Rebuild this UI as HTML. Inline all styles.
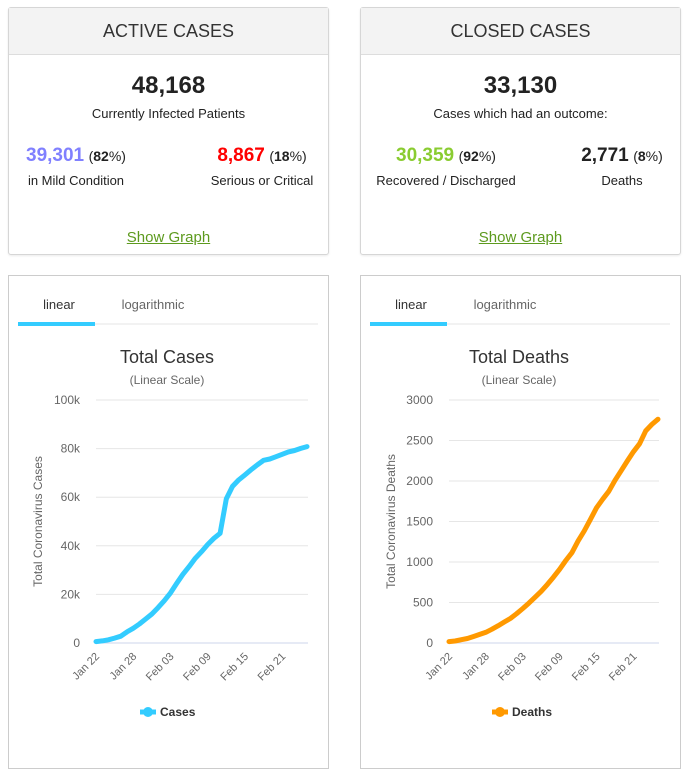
<!DOCTYPE html>
<html><head><meta charset="utf-8">
<style>
body{margin:0;width:690px;height:776px;background:#fff;font-family:"Liberation Sans",sans-serif;position:relative;overflow:hidden;color:#222}
.card{position:absolute;border:1px solid #d6d6d6;border-radius:3px;box-sizing:border-box;background:#fff;box-shadow:0 1px 2px rgba(0,0,0,.08)}
.hdr{height:46px;background:#f3f3f3;border-bottom:1px solid #ddd;text-align:center;line-height:46px;font-size:18px;color:#333}
.abs{position:absolute;text-align:center;white-space:nowrap}
.big{font-size:24px;font-weight:bold;color:#222}
.sub{font-size:13px;color:#222}
.num{font-size:19px;font-weight:bold}
.pct{font-size:14px;color:#222}
.link{font-size:15px;color:#5d9a1e;text-decoration:underline}
.ccard{position:absolute;border:1px solid #ccc;box-sizing:border-box;background:#fff}
svg text{font-family:"Liberation Sans",sans-serif}
</style></head><body>

<div class="card" style="left:8px;top:7px;width:321px;height:248px">
 <div class="hdr">ACTIVE CASES</div>
 <div class="abs big" style="left:0;width:319px;top:64px">48,168</div>
 <div class="abs sub" style="left:0;width:319px;top:98px">Currently Infected Patients</div>
 <div class="abs" style="left:0;width:134px;top:137px"><span class="num" style="color:#8080ff">39,301</span> <span class="pct">(<b>82</b>%)</span></div>
 <div class="abs sub" style="left:0;width:134px;top:165px">in Mild Condition</div>
 <div class="abs" style="left:178px;width:150px;top:137px"><span class="num" style="color:#f00">8,867</span> <span class="pct">(<b>18</b>%)</span></div>
 <div class="abs sub" style="left:178px;width:150px;top:165px">Serious or Critical</div>
 <div class="abs link" style="left:0;width:319px;top:221px">Show Graph</div>
</div>

<div class="card" style="left:360px;top:7px;width:321px;height:248px">
 <div class="hdr">CLOSED CASES</div>
 <div class="abs big" style="left:0;width:319px;top:64px">33,130</div>
 <div class="abs sub" style="left:0;width:319px;top:98px">Cases which had an outcome:</div>
 <div class="abs" style="left:5px;width:160px;top:137px"><span class="num" style="color:#8acc31">30,359</span> <span class="pct">(<b>92</b>%)</span></div>
 <div class="abs sub" style="left:5px;width:160px;top:165px">Recovered / Discharged</div>
 <div class="abs" style="left:186px;width:150px;top:137px"><span class="num" style="color:#222">2,771</span> <span class="pct">(<b>8</b>%)</span></div>
 <div class="abs sub" style="left:186px;width:150px;top:165px">Deaths</div>
 <div class="abs link" style="left:0;width:319px;top:221px">Show Graph</div>
</div>

<div class="ccard" style="left:8px;top:275px;width:321px;height:494px"></div>
<div class="ccard" style="left:360px;top:275px;width:321px;height:494px"></div>

<svg id="s" width="690" height="776" style="position:absolute;left:0;top:0"></svg>

<script>
const dates=["Jan 22","Jan 23","Jan 24","Jan 25","Jan 26","Jan 27","Jan 28","Jan 29","Jan 30","Jan 31","Feb 01","Feb 02","Feb 03","Feb 04","Feb 05","Feb 06","Feb 07","Feb 08","Feb 09","Feb 10","Feb 11","Feb 12","Feb 13","Feb 14","Feb 15","Feb 16","Feb 17","Feb 18","Feb 19","Feb 20","Feb 21","Feb 22","Feb 23","Feb 24","Feb 25"];
const tickLabels=["Jan 22","Jan 28","Feb 03","Feb 09","Feb 15","Feb 21"];
const cases=[580,845,1317,2015,2800,4581,6058,7813,9823,11950,14553,17391,20630,24545,28266,31439,34876,37552,40553,43099,45134,59287,64438,67100,69197,71329,73332,75184,75700,76677,77673,78651,79205,80087,80828];
const deaths=[17,25,41,56,80,106,132,170,213,259,304,362,426,492,565,638,724,813,910,1018,1115,1261,1383,1526,1669,1775,1873,2009,2126,2247,2360,2460,2618,2699,2763];
const casesTicks=[0,20000,40000,60000,80000,100000];
const casesTickLabels=["0","20k","40k","60k","80k","100k"];
const deathsTicks=[0,500,1000,1500,2000,2500,3000];
const deathsTickLabels=["0","500","1000","1500","2000","2500","3000"];

const S=document.getElementById('s');
const NS='http://www.w3.org/2000/svg';
function mk(tag,attrs,txt){const e=document.createElementNS(NS,tag);for(const k in attrs)e.setAttribute(k,attrs[k]);if(txt!==undefined)e.textContent=txt;S.appendChild(e);return e;}

function chart(ox,title,ytitle,vals,ticks,tlabels,ymax,color,series,x0,x1,prefix){
 const y0=643,yTop=400;
 const xs=i=>x0+(x1-x0)*i/(dates.length-1);
 const ys=v=>y0-(y0-yTop)*v/ymax;
 let e;
 e=mk('line',{x1:ox+10,x2:ox+310,y1:324,y2:324,stroke:'#e6e6e6'});
 
 e=mk('rect',{x:ox+10,y:322,width:77,height:4,fill:'#33ccff'});
 
 e=mk('text',{x:ox+51,y:309,'text-anchor':'middle','font-size':13,fill:'#333'},'linear');
 
 e=mk('text',{x:ox+145,y:309,'text-anchor':'middle','font-size':13,fill:'#666'},'logarithmic');
 
 e=mk('text',{x:ox+159,y:363,'text-anchor':'middle','font-size':18,fill:'#333'},title);
 
 e=mk('text',{x:ox+159,y:384,'text-anchor':'middle','font-size':12,fill:'#666'},'(Linear Scale)');
 
 ticks.forEach((t,i)=>{
  const y=ys(t);
  e=mk('line',{x1:x0,x2:x1+1,y1:y,y2:y,stroke:i==0?'#ccd6eb':'#e6e6e6'});
  
  e=mk('text',{x:x0-16,y:y+4,'text-anchor':'end','font-size':12,fill:'#666'},tlabels[i]);
  
 });
 e=mk('text',{x:0,y:0,'text-anchor':'middle','font-size':12,fill:'#666',transform:`translate(${x0-54},${(y0+yTop)/2}) rotate(-90)`},ytitle);
 
 tickLabels.forEach(l=>{
  const i=dates.indexOf(l);const x=xs(i);
  e=mk('text',{x:0,y:0,'text-anchor':'end','font-size':11,fill:'#666',transform:`translate(${x+4},${y0+14}) rotate(-45)`},l);
  
 });
 const pts=vals.map((v,i)=>xs(i).toFixed(1)+','+ys(v).toFixed(1)).join(' ');
 e=mk('polyline',{points:pts,fill:'none',stroke:color,'stroke-width':5,'stroke-linejoin':'round','stroke-linecap':'round'});
 
 const lx=ox+152;
 e=mk('line',{x1:lx-20,x2:lx-4,y1:712,y2:712,stroke:color,'stroke-width':5});
 
 e=mk('circle',{cx:lx-12,cy:712,r:5,fill:color});
 
 e=mk('text',{x:lx,y:716,'font-size':12,'font-weight':'bold',fill:'#333'},series);
 
}
chart(8,'Total Cases','Total Coronavirus Cases',cases,casesTicks,casesTickLabels,100000,'#33ccff','Cases',96,307,'cases');
chart(360,'Total Deaths','Total Coronavirus Deaths',deaths,deathsTicks,deathsTickLabels,3000,'#ff9900','Deaths',449,658,'deaths');
</script>
</body></html>
